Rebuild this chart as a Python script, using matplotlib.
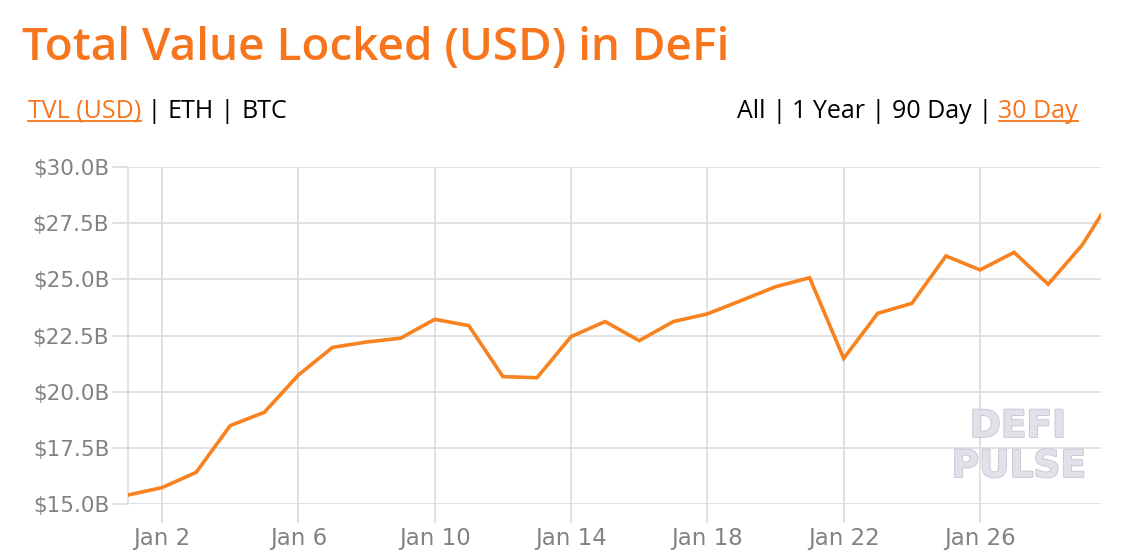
import matplotlib
matplotlib.use("Agg")
import matplotlib.pyplot as plt
import matplotlib.patheffects as pe
from datetime import datetime, timedelta

# ---- data ----
start_date = "2021-01-01"
day_offsets = [0, 1, 2, 3, 4, 5, 6, 7, 8, 9, 10, 11, 12, 13, 14, 15, 16, 17, 18, 19,
               20, 21, 22, 23, 24, 25, 26, 27, 28, 28.55]
tvl_billion = [15.40, 15.73, 16.41, 18.49, 19.08, 20.74, 21.97, 22.21, 22.38, 23.22,
               22.94, 20.67, 20.62, 22.45, 23.12, 22.27, 23.12, 23.46, 24.06, 24.67,
               25.07, 21.48, 23.49, 23.93, 26.04, 25.42, 26.20, 24.78, 26.53, 27.86]
y_ticks = [15.0, 17.5, 20.0, 22.5, 25.0, 27.5, 30.0]
x_tick_days = [2, 6, 10, 14, 18, 22, 26]

title_text = "Total Value Locked (USD) in DeFi"
left_links = ["TVL (USD)", "ETH", "BTC"]
right_links = ["All", "1 Year", "90 Day", "30 Day"]

ORANGE = "#f7761d"
LINE = "#f7821f"
GRID = "#dedede"
TICKC = "#828282"

base = datetime.strptime(start_date, "%Y-%m-%d")
dates = [base + timedelta(days=d) for d in day_offsets]
xt = [base + timedelta(days=d - 1) for d in x_tick_days]

W, H = 1134, 558
fig = plt.figure(figsize=(W / 100, H / 100), dpi=100)
ax = fig.add_axes([128 / W, 1 - 504 / H, (1101 - 128) / W, (504 - 167) / H])

ax.plot(dates, tvl_billion, color=LINE, lw=2.6, solid_joinstyle="miter", zorder=3)
ax.set_xlim(dates[0], dates[-1])
ax.set_ylim(15.0, 30.0)
ax.set_yticks(y_ticks)
ax.set_yticklabels([f"${v:.1f}B" for v in y_ticks])
ax.set_xticks(xt)
ax.set_xticklabels([f"Jan {d}" for d in x_tick_days])
ax.grid(True, color=GRID, lw=1.3)
ax.set_axisbelow(True)
for s in ["top", "right", "bottom"]:
    ax.spines[s].set_visible(False)
ax.spines["left"].set_color(GRID)
ax.spines["left"].set_linewidth(1.3)
ax.tick_params(axis="y", length=11.5, width=1.3, color=GRID, pad=2,
               labelsize=15.5, labelcolor=TICKC)
ax.tick_params(axis="x", length=14, width=1.3, color=GRID, pad=2.5,
               labelsize=16.5, labelcolor=TICKC)
for lab in ax.get_xticklabels() + ax.get_yticklabels():
    lab.set_family("DejaVu Sans")

# watermark
wm = dict(color="#e3e0ea", fontsize=27, fontweight="bold", family="DejaVu Sans",
          ha="center", va="center", transform=ax.transAxes,
          path_effects=[pe.withStroke(linewidth=1.4, foreground="#cdc8d6")])
ax.text((1018 - 128) / 973, (504 - 427) / 337, "DEFI", **wm)
ax.text((1019 - 128) / 973, (504 - 467) / 337, "PULSE", **wm)

# title
fig.text(22 / W, 1 - 60 / H, title_text, color=ORANGE, fontsize=33,
         fontweight="semibold", family="Open Sans", ha="left", va="baseline")

# links
renderer = fig.canvas.get_renderer()
LFS = 18
def draw_links(items, x0, y_base, active, fs=LFS):
    x = x0
    pieces = []
    for i, it in enumerate(items):
        if i > 0:
            pieces.append((" | ", "black", False))
        pieces.append((it, ORANGE if i == active else "black", i == active))
    for txt, col, ul in pieces:
        t = fig.text(x / W, 1 - y_base / H, txt, color=col, fontsize=fs,
                     family="Open Sans", ha="left", va="baseline")
        bb = t.get_window_extent(renderer)
        if ul:
            fig.add_artist(plt.Line2D([x / W, (x + bb.width) / W],
                                      [1 - (y_base + 3) / H] * 2,
                                      color=col, lw=1.3, transform=fig.transFigure))
        x += bb.width
    return x

draw_links(left_links, 28, 118, 0)
tmp = fig.text(0, 0, "All | 1 Year | 90 Day | 30 Day", fontsize=LFS, family="Open Sans")
wtot = tmp.get_window_extent(renderer).width
tmp.remove()
draw_links(right_links, 1078 - wtot, 118, 3)

fig.savefig("out.png", dpi=100, facecolor="white")
